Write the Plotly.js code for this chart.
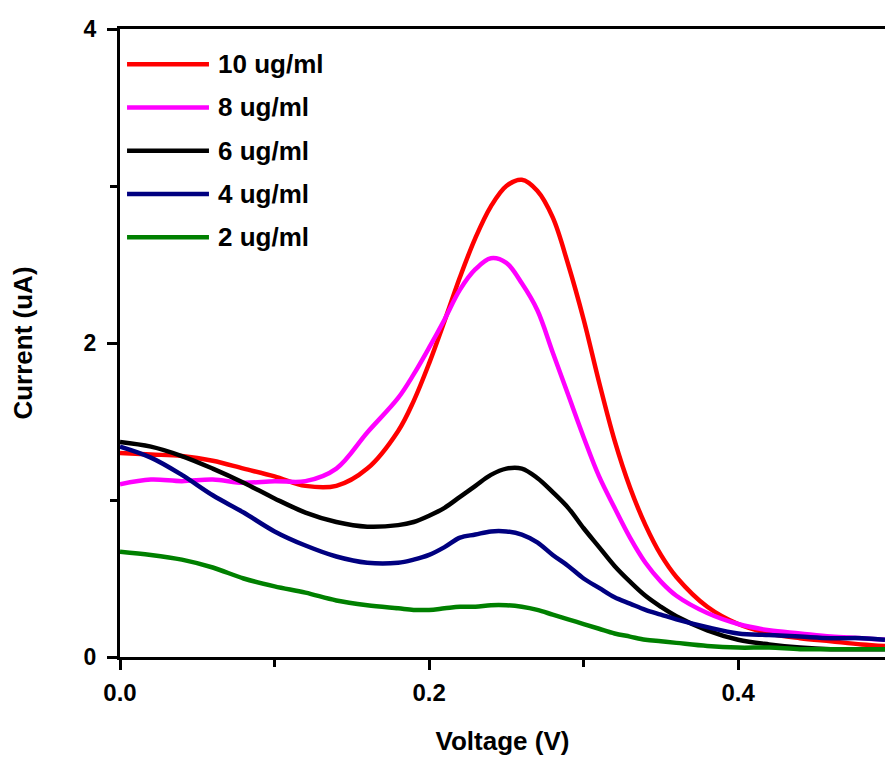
<!DOCTYPE html>
<html>
<head>
<meta charset="utf-8">
<script src="https://cdn.plot.ly/plotly-3.0.1.min.js"></script>
<style>html,body{margin:0;padding:0;background:#fff;}#chart{width:885px;height:763px;}</style>
</head>
<body>
<div id="chart"></div>
<script>
// Voltage (V)
const voltage = [0, 0.02, 0.04, 0.06, 0.08, 0.10, 0.12, 0.14, 0.16,
                 0.18, 0.19, 0.20, 0.21, 0.22, 0.23, 0.24, 0.25, 0.26, 0.27, 0.28, 0.29, 0.30,
                 0.31, 0.32, 0.33, 0.34, 0.35, 0.36,
                 0.38, 0.40, 0.42, 0.44, 0.46, 0.48, 0.495];

// Current (uA) per concentration
const conc10 = [1.30, 1.29, 1.28, 1.25, 1.20, 1.15, 1.09, 1.09, 1.20,
                1.44, 1.63, 1.87, 2.14, 2.42, 2.67, 2.87, 3.00, 3.04, 2.97, 2.80, 2.50, 2.15,
                1.75, 1.38, 1.08, 0.84, 0.65, 0.51,
                0.32, 0.21, 0.15, 0.12, 0.10, 0.08, 0.07];
const conc8  = [1.10, 1.13, 1.12, 1.13, 1.11, 1.12, 1.12, 1.20, 1.43,
                1.65, 1.80, 1.97, 2.15, 2.34, 2.47, 2.54, 2.51, 2.38, 2.21, 1.94, 1.67, 1.40,
                1.15, 0.95, 0.76, 0.60, 0.48, 0.39,
                0.28, 0.21, 0.17, 0.15, 0.13, 0.12, 0.11];
const conc6  = [1.37, 1.34, 1.28, 1.20, 1.11, 1.01, 0.92, 0.86, 0.83,
                0.84, 0.86, 0.90, 0.95, 1.02, 1.09, 1.16, 1.20, 1.20, 1.14, 1.05, 0.95, 0.82,
                0.70, 0.58, 0.48, 0.39, 0.32, 0.26,
                0.17, 0.11, 0.08, 0.06, 0.05, 0.05, 0.05];
const conc4  = [1.34, 1.27, 1.16, 1.03, 0.92, 0.80, 0.71, 0.64, 0.60,
                0.60, 0.62, 0.65, 0.70, 0.76, 0.78, 0.80, 0.80, 0.78, 0.73, 0.65, 0.58, 0.50,
                0.44, 0.38, 0.34, 0.30, 0.27, 0.24,
                0.19, 0.15, 0.14, 0.13, 0.12, 0.12, 0.11];
const conc2  = [0.67, 0.65, 0.62, 0.57, 0.50, 0.45, 0.41, 0.36, 0.33,
                0.31, 0.30, 0.30, 0.31, 0.32, 0.32, 0.33, 0.33, 0.32, 0.30, 0.27, 0.24, 0.21,
                0.18, 0.15, 0.13, 0.11, 0.10, 0.09,
                0.07, 0.06, 0.06, 0.05, 0.05, 0.05, 0.05];

const seriesNames = ['10 ug/ml', '8 ug/ml', '6 ug/ml', '4 ug/ml', '2 ug/ml'];
const seriesValues = [conc10, conc8, conc6, conc4, conc2];
const seriesColors = ['#ff0000', '#ff00ff', '#000000', '#000080', '#008000'];

const xTickVals = [0, 0.2, 0.4];
const xTickText = ['0.0', '0.2', '0.4'];
const yTickVals = [0, 2, 4];
const yTickText = ['0', '2', '4'];

const FONT = 'Liberation Sans, Arial, sans-serif';

const traces = seriesNames.map((name, i) => ({
  type: 'scatter',
  mode: 'lines',
  name: name,
  x: voltage,
  y: seriesValues[i],
  line: {color: seriesColors[i], width: 4.5, shape: 'spline', smoothing: 1},
  showlegend: false,
  hoverinfo: 'x+y+name'
}));

// Legend drawn in paper coordinates (long line samples as in reference)
const legTop = 0.944, legStep = 0.0689;
const shapes = [];
const annotations = [];
seriesNames.forEach((name, i) => {
  const yy = legTop - i * legStep;
  shapes.push({type: 'line', xref: 'paper', yref: 'paper', x0: 0.0092, x1: 0.1163, y0: yy, y1: yy,
               line: {color: seriesColors[i], width: 4.5}});
  annotations.push({xref: 'paper', yref: 'paper', x: 0.1255, y: yy, xanchor: 'left', yanchor: 'middle',
                    text: name, showarrow: false, font: {family: FONT, size: 26, color: '#000', weight: 'bold'}});
});

const layout = {
  width: 885, height: 763,
  margin: {l: 120, r: 0, t: 29, b: 106, pad: 0},
  paper_bgcolor: '#ffffff', plot_bgcolor: '#ffffff',
  font: {family: FONT, color: '#000', weight: 'bold'},
  showlegend: false,
  xaxis: {
    range: [0, 0.495],
    tickmode: 'array', tickvals: xTickVals, ticktext: xTickText,
    ticks: 'outside', ticklen: 10, tickwidth: 3, tickcolor: '#000',
    minor: {tickmode: 'array', tickvals: [0.1, 0.3], ticks: 'outside', ticklen: 7, tickwidth: 3, tickcolor: '#000'},
    showline: true, linewidth: 3, linecolor: '#000', mirror: true,
    showgrid: false, zeroline: false,
    ticklabelstandoff: 2,
    tickfont: {family: FONT, size: 24, color: '#000', weight: 'bold'},
    title: {text: 'Voltage (V)', font: {family: FONT, size: 26, color: '#000', weight: 'bold'}, standoff: 28}
  },
  yaxis: {
    range: [0, 4],
    tickmode: 'array', tickvals: yTickVals, ticktext: yTickText,
    ticks: 'outside', ticklen: 10, tickwidth: 3, tickcolor: '#000',
    minor: {tickmode: 'array', tickvals: [1, 3], ticks: 'outside', ticklen: 7, tickwidth: 3, tickcolor: '#000'},
    showline: true, linewidth: 3, linecolor: '#000', mirror: false,
    showgrid: false, zeroline: false,
    ticklabelstandoff: 6,
    tickfont: {family: FONT, size: 23, color: '#000', weight: 'bold'},
    title: {text: 'Current (uA)', font: {family: FONT, size: 26, color: '#000', weight: 'bold'}, standoff: 44}
  },
  shapes: shapes,
  annotations: annotations
};

Plotly.newPlot('chart', traces, layout, {displayModeBar: false, staticPlot: true});
</script>
</body>
</html>
